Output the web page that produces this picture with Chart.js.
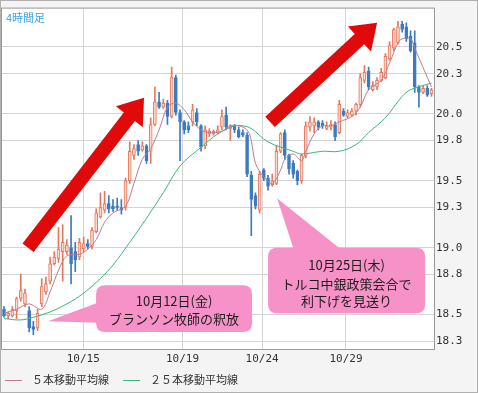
<!DOCTYPE html>
<html><head><meta charset="utf-8">
<script src="https://cdn.jsdelivr.net/npm/chart.js@4/dist/chart.umd.min.js"></script>
<style>html,body{margin:0;padding:0;background:#fff}canvas{display:block}</style>
</head><body>
<canvas id="c" width="478" height="393"></canvas>
<script>
// ---- data (4-hour candles) ----
const opens = [
 18.54,18.49,18.49,18.53,18.62,18.58,18.53,18.41,18.40,18.58,
 18.67,18.75,18.88,18.92,18.97,18.97,19.00,18.97,18.93,18.99,
 19.03,19.01,19.12,19.23,19.28,19.33,19.31,19.31,19.30,19.30,
 19.50,19.69,19.77,19.73,19.76,19.72,19.92,20.09,20.05,20.08,
 19.98,20.27,20.01,19.94,19.91,19.94,20.01,19.91,19.76,19.85,
 19.85,19.86,19.90,19.99,19.89,19.91,19.88,19.86,19.84,19.54,
 19.39,19.28,19.58,19.52,19.47,19.48,19.72,19.86,19.69,19.63,
 19.57,19.50,19.69,19.90,19.91,19.94,19.93,19.89,19.90,19.92,
 19.86,20.02,19.98,19.99,20.02,20.07,20.25,20.32,20.18,20.20,
 20.25,20.27,20.41,20.49,20.53,20.67,20.65,20.58,20.53,20.20,
 20.16,20.19,20.15];
const highs = [
 18.56,18.52,18.56,18.63,18.80,18.69,18.56,18.45,18.54,18.77,
 18.78,18.93,18.97,19.15,19.17,19.06,19.24,19.04,19.07,19.08,
 19.06,19.15,19.29,19.41,19.42,19.39,19.36,19.37,19.36,19.52,
 19.79,19.77,19.80,19.79,19.77,19.97,20.20,20.16,20.11,20.10,
 20.35,20.29,20.03,19.95,19.94,20.07,20.04,19.92,19.91,19.89,
 19.88,19.91,20.03,20.05,19.92,19.92,19.90,19.88,19.86,19.57,
 19.41,19.57,19.59,19.54,19.55,19.76,19.86,19.88,19.70,19.65,
 19.58,19.70,19.94,19.98,19.97,19.95,19.95,19.94,19.95,19.94,
 20.10,20.04,20.03,20.04,20.08,20.30,20.36,20.35,20.24,20.27,
 20.34,20.45,20.54,20.64,20.69,20.69,20.68,20.62,20.62,20.21,
 20.21,20.21,20.19];
const lows = [
 18.48,18.47,18.48,18.47,18.60,18.56,18.37,18.35,18.38,18.56,
 18.65,18.73,18.87,18.89,18.75,18.95,18.73,18.82,18.91,18.97,
 18.99,18.99,19.11,19.22,19.26,19.26,19.27,19.28,19.25,19.28,
 19.48,19.66,19.69,19.72,19.63,19.63,19.91,20.04,20.04,19.92,
 19.97,19.99,19.65,19.85,19.86,19.91,19.91,19.72,19.74,19.83,
 19.84,19.85,19.88,19.88,19.80,19.86,19.82,19.83,19.53,19.09,
 19.29,19.26,19.50,19.43,19.46,19.47,19.71,19.66,19.55,19.52,
 19.47,19.48,19.67,19.87,19.86,19.88,19.89,19.88,19.88,19.80,
 19.85,19.98,19.97,19.98,19.99,20.05,20.23,20.18,20.17,20.18,
 20.24,20.26,20.40,20.47,20.52,20.61,20.54,20.46,20.16,20.05,
 20.15,20.13,20.13];
const closes = [
 18.49,18.51,18.54,18.62,18.68,18.66,18.40,18.39,18.51,18.71,
 18.73,18.88,18.93,18.99,19.04,19.02,18.88,18.91,19.04,19.03,
 19.01,19.13,19.26,19.30,19.33,19.29,19.29,19.30,19.28,19.50,
 19.72,19.74,19.72,19.76,19.65,19.92,20.09,20.05,20.08,19.98,
 20.27,20.01,19.94,19.88,19.88,20.03,19.94,19.75,19.88,19.87,
 19.87,19.88,19.98,19.90,19.91,19.88,19.83,19.84,19.55,19.36,
 19.31,19.55,19.52,19.46,19.50,19.72,19.85,19.69,19.59,19.55,
 19.50,19.69,19.91,19.94,19.94,19.90,19.91,19.91,19.92,19.83,
 20.07,19.99,20.01,20.02,20.07,20.27,20.31,20.20,20.21,20.25,
 20.31,20.43,20.51,20.63,20.65,20.63,20.56,20.47,20.20,20.16,
 20.19,20.14,20.18];

// moving averages (candle index, value)
const ma5Idx = [0,3,6,9,11,13,15,18,20,22,24,26,29,31,33,35,37,39,41,43,45,47,49,52,54,56,58,59,60,62,64,66,67,69,71,72,74,76,78,80,83,85,87,90,92,94,95,97,98,102];
const ma5Val = [18.51,18.54,18.58,18.54,18.67,18.83,18.94,18.95,18.99,19.06,19.19,19.26,19.31,19.48,19.66,19.74,19.88,20.05,20.08,20.03,19.94,19.88,19.86,19.87,19.91,19.91,19.88,19.80,19.63,19.53,19.48,19.58,19.66,19.70,19.65,19.72,19.85,19.91,19.91,19.94,19.98,20.05,20.18,20.25,20.38,20.53,20.56,20.56,20.49,20.20];
const ma25Idx = [0,4,7,11,15,19,23,26,30,34,38,42,47,51,55,57,59,63,69,71,76,80,84,87,91,95,97,102];
const ma25Val = [18.47,18.46,18.48,18.52,18.58,18.66,18.77,18.87,19.04,19.22,19.41,19.61,19.75,19.85,19.91,19.91,19.89,19.79,19.72,19.70,19.72,19.72,19.77,19.86,19.97,20.13,20.18,20.23];

// axis ticks
const yTicks = [18.3,18.5,18.8,19.0,19.3,19.5,19.8,20.0,20.3,20.5];
const xTickPos = [18.9,42.6,61.6,81.6];
const xTickLabels = ['10/15','10/19','10/24','10/29'];
const seriesNames = ['５本移動平均線','２５本移動平均線'];

// ---- styles ----
const UP_LINE = '#e5785c', UP_FILL = '#fdd8cb', DN = '#3b7bbf';
const MA5_COLOR = '#c27a90', MA25_COLOR = '#3db67c';

// annotations anchored in data coordinates (candle index, price)
const notes = {
  arrows: [ [5.73,19.00, 33.41,20.12], [63.48,19.94, 89.02,20.68] ],
  callouts: [
    { box:[21.96,18.72,59.19,18.37], ptr:[10.5,18.45, 22.5,18.59, 22.5,18.44],
      cx:40.57, lines:[[18.60,'10月12日(金)'],[18.47,'ブランソン牧師の釈放']] },
    { box:[63.0,19.00,100.48,18.51], ptr:[65.16,19.37, 69.2,18.98, 80.67,18.98],
      cx:81.74, lines:[[18.87,'10月25日(木)'],[18.73,'トルコ中銀政策会合で'],[18.60,'利下げを見送り']] }
  ]
};

const idx = opens.map((_, i) => i);
const up = i => closes[i] >= opens[i];

function rr(ctx, x, y, w, h, r){
  ctx.beginPath();
  ctx.moveTo(x+r, y); ctx.lineTo(x+w-r, y); ctx.quadraticCurveTo(x+w, y, x+w, y+r);
  ctx.lineTo(x+w, y+h-r); ctx.quadraticCurveTo(x+w, y+h, x+w-r, y+h);
  ctx.lineTo(x+r, y+h); ctx.quadraticCurveTo(x, y+h, x, y+h-r);
  ctx.lineTo(x, y+r); ctx.quadraticCurveTo(x, y, x+r, y); ctx.closePath();
}
function arrow(ctx, x0, y0, x1, y1, sw, hl, hw){
  const dx = x1-x0, dy = y1-y0, L = Math.hypot(dx, dy), ux = dx/L, uy = dy/L, nx = -uy, ny = ux;
  const bx = x1-ux*hl, by = y1-uy*hl;
  ctx.beginPath();
  ctx.moveTo(x0+nx*sw/2, y0+ny*sw/2);
  ctx.lineTo(bx+nx*sw/2, by+ny*sw/2);
  ctx.lineTo(bx+nx*hw, by+ny*hw);
  ctx.lineTo(x1, y1);
  ctx.lineTo(bx-nx*hw, by-ny*hw);
  ctx.lineTo(bx-nx*sw/2, by-ny*sw/2);
  ctx.lineTo(x0-nx*sw/2, y0-ny*sw/2);
  ctx.closePath(); ctx.fill();
}

const deco = {
  id: 'deco',
  beforeDraw(chart){
    const {ctx, chartArea: a, width, height} = chart;
    ctx.save();
    ctx.fillStyle = '#f4f4f4'; ctx.fillRect(0, 0, width, height);
    ctx.fillStyle = '#ffffff'; ctx.fillRect(a.left, a.top, a.right-a.left, a.bottom-a.top);
    ctx.restore();
  },
  afterDatasetsDraw(chart){
    const {ctx} = chart, X = v => chart.scales.x.getPixelForValue(v), Y = v => chart.scales.y.getPixelForValue(v);
    ctx.save();
    ctx.fillStyle = '#e00a0a';
    notes.arrows.forEach(a => arrow(ctx, X(a[0]), Y(a[1]), X(a[2]), Y(a[3]), 14, 24, 17));
    notes.callouts.forEach(c => {
      ctx.fillStyle = '#f792c8';
      const x0 = X(c.box[0]), y0 = Y(c.box[1]), x1 = X(c.box[2]), y1 = Y(c.box[3]);
      rr(ctx, x0, y0, x1-x0, y1-y0, 9); ctx.fill();
      ctx.beginPath();
      ctx.moveTo(X(c.ptr[0]), Y(c.ptr[1])); ctx.lineTo(X(c.ptr[2]), Y(c.ptr[3])); ctx.lineTo(X(c.ptr[4]), Y(c.ptr[5]));
      ctx.closePath(); ctx.fill();
      ctx.fillStyle = '#1c1c1c';
      ctx.font = '13px "Noto Sans CJK JP"';
      ctx.textAlign = 'center'; ctx.textBaseline = 'middle';
      c.lines.forEach(l => ctx.fillText(l[1], X(c.cx), Y(l[0])));
    });
    ctx.restore();
  },
  afterDraw(chart){
    const {ctx, chartArea: a, width, height} = chart;
    ctx.save();
    ctx.strokeStyle = '#9a9a9a'; ctx.lineWidth = 1;
    ctx.strokeRect(a.left-0.5, a.top-0.5, a.right-a.left+1, a.bottom-a.top+1);
    ctx.strokeStyle = '#b0b0b0';
    ctx.strokeRect(0.5, 0.5, width-1, height-1);
    // title
    ctx.fillStyle = '#3ba3df'; ctx.font = '11px "Noto Sans CJK JP"';
    ctx.textAlign = 'left'; ctx.textBaseline = 'middle';
    ctx.fillText('4時間足', a.left+4, a.top+9);
    // legend
    const ly = 380;
    const items = [[5, MA5_COLOR, seriesNames[0]], [123, MA25_COLOR, seriesNames[1]]];
    ctx.font = '11px "Noto Sans CJK JP"'; ctx.fillStyle = '#333';
    items.forEach(it => {
      ctx.strokeStyle = it[1]; ctx.beginPath(); ctx.moveTo(it[0], ly+0.5); ctx.lineTo(it[0]+17, ly+0.5); ctx.stroke();
      ctx.fillStyle = '#333'; ctx.fillText(it[2], it[0]+27, ly);
    });
    ctx.restore();
  }
};

new Chart(document.getElementById('c'), {
  type: 'bar',
  data: {
    datasets: [
      { type: 'line', label: seriesNames[0], data: ma5Idx.map((x, k) => ({x, y: ma5Val[k]})),
        borderColor: MA5_COLOR, borderWidth: 1, pointRadius: 0, tension: 0.35, order: 0 },
      { type: 'line', label: seriesNames[1], data: ma25Idx.map((x, k) => ({x, y: ma25Val[k]})),
        borderColor: MA25_COLOR, borderWidth: 1, pointRadius: 0, tension: 0.35, order: 0 },
      { label: 'wick', data: idx.map(i => ({x: i, y: [lows[i], highs[i]]})),
        backgroundColor: idx.map(i => up(i) ? UP_LINE : DN), barThickness: 1, grouped: false, order: 2 },
      { label: 'body', data: idx.map(i => ({x: i, y: [opens[i], closes[i]]})),
        backgroundColor: idx.map(i => up(i) ? UP_FILL : DN), borderColor: idx.map(i => up(i) ? UP_LINE : DN),
        borderWidth: 1, borderSkipped: false, barThickness: 3, grouped: false, order: 1 }
    ]
  },
  options: {
    responsive: false, animation: false, devicePixelRatio: 1,
    layout: { padding: { left: 2, top: 2, right: 0, bottom: 26 } },
    plugins: { legend: { display: false }, tooltip: { enabled: false } },
    scales: {
      x: { type: 'linear', min: -0.48, max: 102.6, offset: false,
        afterBuildTicks: s => { s.ticks = xTickPos.map(v => ({value: v})); },
        afterFit: s => { s.height = 18; },
        ticks: { callback: (v, k) => xTickLabels[k], autoSkip: false, maxRotation: 0, padding: 4,
                 font: { family: 'DejaVu Sans Mono', size: 11 }, color: '#333' },
        grid: { color: '#d4d4d4', drawTicks: false, offset: false },
        border: { display: false } },
      y: { position: 'right', min: 18.243, max: 20.786,
        afterBuildTicks: s => { s.ticks = yTicks.map(v => ({value: v})); },
        afterFit: s => { s.width = 44; },
        ticks: { callback: v => v.toFixed(1), padding: 2, font: { family: 'DejaVu Sans Mono', size: 11 }, color: '#333' },
        grid: { color: '#d4d4d4', drawTicks: false },
        border: { display: false } }
    }
  },
  plugins: [deco]
});
</script>
</body></html>
